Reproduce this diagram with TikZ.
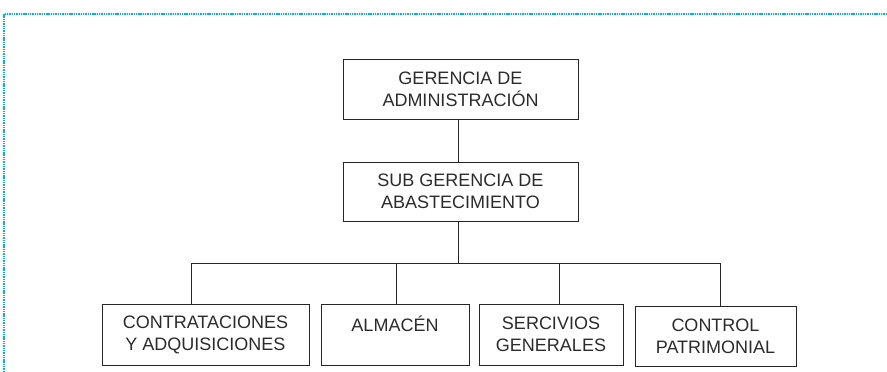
\documentclass[tikz,border=0pt]{standalone}
\usepackage{fontspec}
\setmainfont{Liberation Sans}
\definecolor{frameblue}{HTML}{00B0F0}
\definecolor{txtgray}{HTML}{2B2B2B}
\begin{document}
\begin{tikzpicture}[x=1pt,y=-1pt,
  orgbox/.style={draw=black!85, line width=1pt, rectangle, inner sep=0pt,
    text=txtgray, align=center, font=\fontsize{18}{22}\selectfont},
  link/.style={draw=black!85, line width=1pt}]
\useasboundingbox (0,0) rectangle (887,372);
\draw[frameblue, line width=2pt, dash pattern=on 1.4pt off 0.9pt] (887,14) -- (4,14) -- (4,372);

\node[orgbox, minimum width=235pt, minimum height=60pt] (ga) at (460.5,89) {GERENCIA DE\\ADMINISTRACIÓN};
\node[orgbox, minimum width=235pt, minimum height=59pt] (sg) at (460.5,191.5) {SUB GERENCIA DE\\ABASTECIMIENTO};
\node[orgbox, minimum width=207pt, minimum height=61pt] (ca) at (205.5,334.5) {CONTRATACIONES\\Y ADQUISICIONES};
\node[orgbox, minimum width=148pt, minimum height=61pt] (al) at (395,334.5) {ALMACÉN\\\mbox{}};
\node[orgbox, minimum width=144pt, minimum height=61pt] (se) at (551,334.5) {SERCIVIOS\\GENERALES};
\node[orgbox, minimum width=161pt, minimum height=60pt] (cp) at (715.5,336) {CONTROL\\PATRIMONIAL};

\coordinate (bus) at (458,263);
\draw[link] (ga.south -| bus) -- (sg.north -| bus);
\draw[link] (sg.south -| bus) -- (bus);
\draw[link] (ca.north -| 191,0) |- (bus);
\draw[link] (cp.north -| 720,0) |- (bus);
\draw[link] (al.north -| 396,0) -- (396,263);
\draw[link] (se.north -| 559,0) -- (559,263);
\end{tikzpicture}
\end{document}
